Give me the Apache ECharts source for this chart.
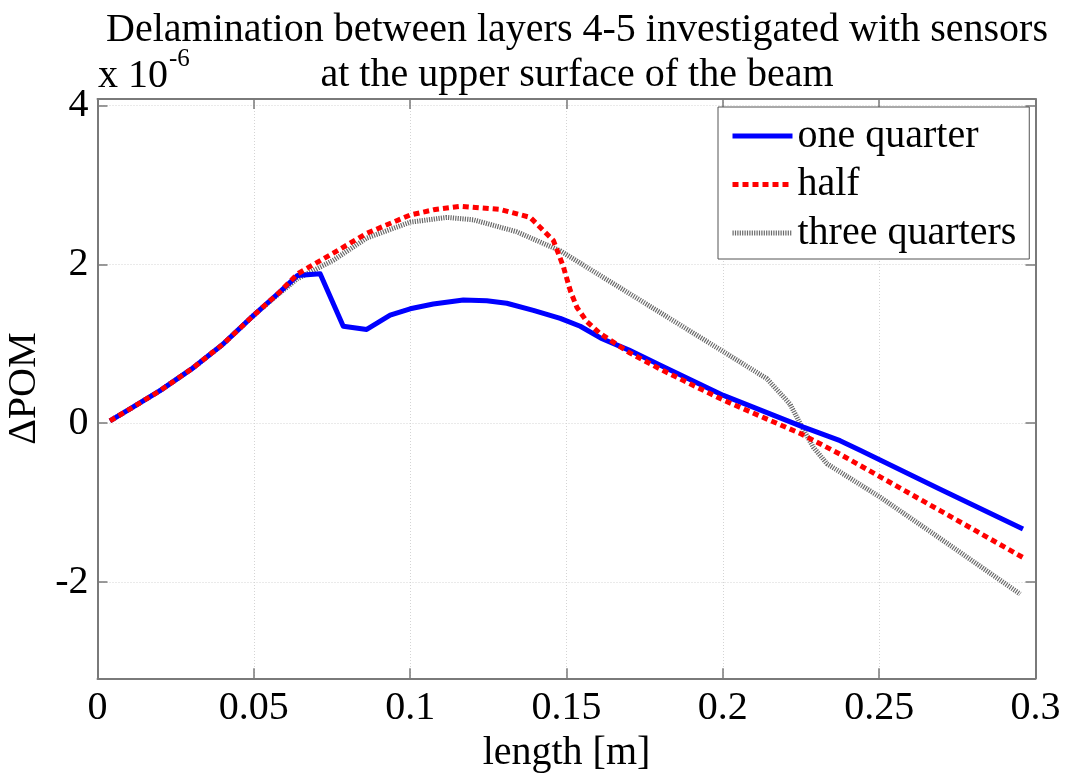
<!DOCTYPE html>
<html>
<head>
<meta charset="utf-8">
<script src="https://cdn.jsdelivr.net/npm/echarts@6/dist/echarts.min.js"></script>
<style>html,body{margin:0;padding:0;background:#fff}#c{width:1067px;height:774px}</style>
</head>
<body>
<div id="c"></div>
<script>
// ---- data (values x 10^-6) ----
const seriesNames = ['one quarter', 'half', 'three quarters'];
const quarterX = [0.004,0.01,0.02,0.03,0.04,0.05,0.058,0.064,0.0712,0.0786,0.0861,0.0936,0.1,0.1074,0.117,0.1245,0.1309,0.1394,0.148,0.1544,0.161,0.17,0.18,0.19,0.2002,0.2258,0.2375,0.2439,0.2695,0.296];
const quarterY = [0.03,0.17,0.41,0.68,0.99,1.36,1.64,1.86,1.88,1.22,1.18,1.36,1.44,1.50,1.55,1.54,1.51,1.42,1.32,1.22,1.07,0.92,0.73,0.54,0.35,-0.05,-0.22,-0.34,-0.83,-1.33];
const halfX = [0.004,0.01,0.02,0.03,0.04,0.05,0.058,0.064,0.0754,0.0861,0.1,0.108,0.116,0.1288,0.1384,0.1458,0.149,0.1512,0.1533,0.1565,0.1607,0.17,0.18,0.2002,0.2248,0.2375,0.2695,0.296];
const halfY = [0.03,0.17,0.41,0.68,0.99,1.36,1.64,1.88,2.14,2.39,2.62,2.69,2.73,2.69,2.59,2.30,1.97,1.67,1.46,1.28,1.13,0.89,0.68,0.29,-0.13,-0.39,-1.10,-1.69];
const threeX = [0.004,0.01,0.02,0.03,0.04,0.05,0.058,0.064,0.0754,0.0861,0.1,0.1117,0.1202,0.134,0.148,0.2002,0.2141,0.2215,0.2248,0.2289,0.2333,0.2503,0.2695,0.2951];
const threeY = [0.03,0.17,0.41,0.68,0.99,1.36,1.63,1.82,2.05,2.33,2.53,2.59,2.56,2.41,2.17,0.90,0.56,0.24,-0.01,-0.30,-0.51,-0.93,-1.45,-2.15];
const xTickValues = [0,0.05,0.1,0.15,0.2,0.25,0.3];
const xTickLabels = ['0','0.05','0.1','0.15','0.2','0.25','0.3'];
const yTickValues = [-2,0,2,4];
const yTickLabels = ['-2','0','2','4'];
const titleLines = ['Delamination between layers 4-5 investigated with sensors','at the upper surface of the beam'];
const scaleBase = 'x 10';
const scaleExp = '-6';

const pairs = (xs, ys) => xs.map((x, i) => [x, ys[i]]);
const FONT = 'Liberation Serif';
const AX = '#7a7a7a';
const GRID = '#d4d4d4';

const xLab = v => { const i = xTickValues.findIndex(t => Math.abs(t - v) < 1e-9); return i >= 0 ? xTickLabels[i] : ''; };
const yLab = v => { const i = yTickValues.findIndex(t => Math.abs(t - v) < 1e-9); return i >= 0 ? yTickLabels[i] : ''; };

const chart = echarts.init(document.getElementById('c'), null, {renderer: 'canvas'});
chart.setOption({
  animation: false,
  backgroundColor: '#fff',
  title: {
    text: titleLines.join('\n'),
    left: 572, top: 3, textAlign: 'center',
    textStyle: {fontFamily: FONT, fontSize: 40, fontWeight: 'normal', color: '#000', lineHeight: 45}
  },
  graphic: [{
    type: 'text', z: 100,
    style: {x: 98, y: 76, text: scaleBase, verticalAlign: 'middle', align: 'left',
      fontFamily: FONT, fontSize: 40, fill: '#000'}
  }, {
    type: 'text', z: 100,
    style: {x: 169, y: 59, text: scaleExp, verticalAlign: 'middle', align: 'left',
      fontFamily: FONT, fontSize: 25, fill: '#000'}
  }],
  legend: {
    data: seriesNames,
    orient: 'vertical',
    left: 718, top: 107,
    padding: [9, 13, 6, 12],
    itemWidth: 60, itemHeight: 14, itemGap: 8.5,
    backgroundColor: '#fff',
    borderColor: '#555', borderWidth: 1,
    itemStyle: {opacity: 0},
    lineStyle: {width: 5},
    textStyle: {fontFamily: FONT, fontSize: 40, color: '#000', lineHeight: 40}
  },
  grid: {left: 97.5, right: 31.5, top: 99, bottom: 95.7, outerBoundsMode: 'none', containLabel: false},
  xAxis: [{
    type: 'value', min: 0, max: 0.3, interval: 0.05, position: 'bottom',
    name: 'length [m]', nameLocation: 'middle', nameGap: 45,
    nameTextStyle: {fontFamily: FONT, fontSize: 40, color: '#000'},
    axisLine: {onZero: false, lineStyle: {color: AX, width: 2}},
    axisTick: {inside: true, length: 10, lineStyle: {color: AX, width: 1.5}},
    axisLabel: {formatter: xLab, fontFamily: FONT, fontSize: 40, color: '#000', margin: 10},
    splitLine: {show: true, lineStyle: {type: [1, 2], color: GRID, width: 1}}
  }, {
    type: 'value', min: 0, max: 0.3, interval: 0.05, position: 'top',
    axisLine: {onZero: false, lineStyle: {color: AX, width: 2}},
    axisTick: {inside: true, length: 10, lineStyle: {color: AX, width: 1.5}},
    axisLabel: {show: false}, splitLine: {show: false}
  }],
  yAxis: [{
    type: 'value', min: -3.21, max: 4.08, position: 'left',
    name: 'ΔPOM', nameLocation: 'middle', nameGap: 49,
    nameTextStyle: {fontFamily: FONT, fontSize: 40, color: '#000'},
    axisLine: {onZero: false, lineStyle: {color: AX, width: 2}},
    axisTick: {inside: true, length: 10, customValues: yTickValues, lineStyle: {color: AX, width: 1.5}},
    axisLabel: {customValues: yTickValues, formatter: yLab, fontFamily: FONT, fontSize: 40, color: '#000', margin: 9},
    splitLine: {show: true, lineStyle: {type: [1, 2], color: GRID, width: 1}}
  }, {
    type: 'value', min: -3.21, max: 4.08, position: 'right',
    axisLine: {onZero: false, lineStyle: {color: AX, width: 2}},
    axisTick: {inside: true, length: 10, customValues: yTickValues, lineStyle: {color: AX, width: 1.5}},
    axisLabel: {show: false}, splitLine: {show: false}
  }],
  series: [{
    name: seriesNames[0], type: 'line', z: 3, symbol: 'none',
    data: pairs(quarterX, quarterY),
    lineStyle: {color: '#0000ff', width: 5, join: 'round'},
    itemStyle: {color: '#0000ff'}
  }, {
    name: seriesNames[1], type: 'line', z: 4, symbol: 'none',
    data: pairs(halfX, halfY),
    lineStyle: {color: '#ff0000', width: 5, type: [6, 4]},
    itemStyle: {color: '#ff0000'}
  }, {
    name: seriesNames[2], type: 'line', z: 2, symbol: 'none',
    data: pairs(threeX, threeY),
    lineStyle: {color: '#6a6a6a', width: 5, type: [1.2, 1.2]},
    itemStyle: {color: '#6a6a6a'}
  }]
});
</script>
</body>
</html>
